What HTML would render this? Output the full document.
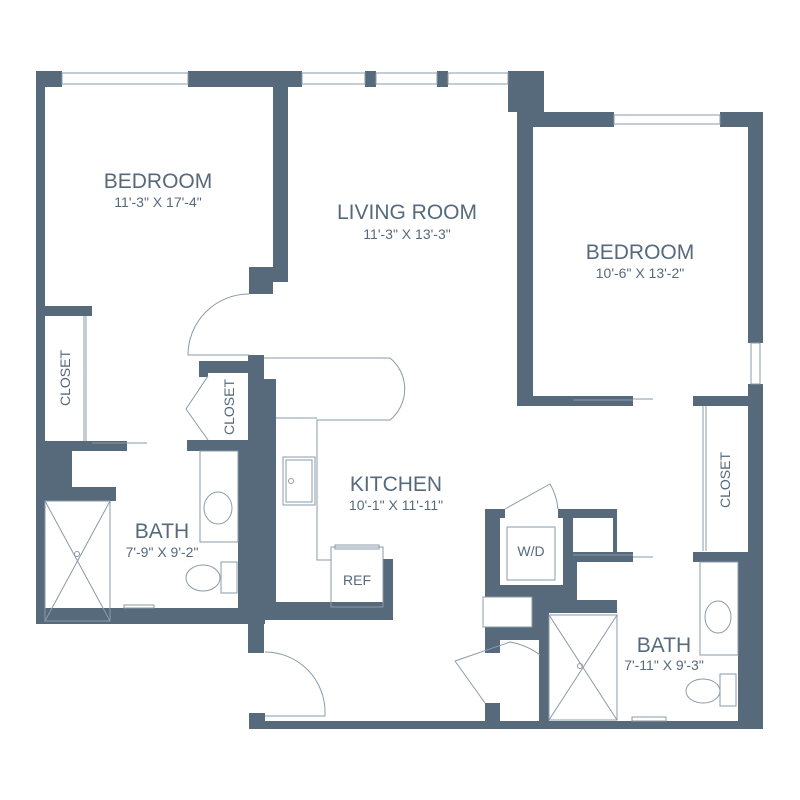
<!DOCTYPE html>
<html><head><meta charset="utf-8"><style>
html,body{margin:0;padding:0;background:#fff;width:800px;height:800px;overflow:hidden}
svg{display:block}
.t{font-family:"Liberation Sans",sans-serif;fill:#566a7c;text-anchor:middle}
</style></head><body>
<svg width="800" height="800" viewBox="0 0 800 800" xmlns="http://www.w3.org/2000/svg">
<g fill="#566a7c">
<rect x="36" y="71" width="26" height="16"/>
<rect x="188" y="71" width="114" height="16"/>
<rect x="365" y="71" width="11" height="16"/>
<rect x="437" y="71" width="11" height="16"/>
<rect x="508" y="71" width="36" height="41"/>
<rect x="517" y="71" width="16" height="335"/>
<rect x="533" y="112" width="81" height="15"/>
<rect x="720" y="112" width="43" height="15"/>
<rect x="748" y="112" width="15" height="231"/>
<rect x="748" y="384" width="15" height="344"/>
<rect x="738" y="562" width="25" height="166"/>
<rect x="36" y="71" width="9" height="553"/>
<rect x="36" y="608" width="229" height="16"/>
<rect x="273" y="87" width="15" height="195"/>
<rect x="249" y="267" width="24" height="27"/>
<rect x="273" y="267" width="15" height="15"/>
<rect x="45" y="306" width="47" height="10"/>
<rect x="36" y="441" width="91" height="10"/>
<rect x="36" y="441" width="36" height="60"/>
<rect x="72" y="487" width="44" height="14"/>
<rect x="187" y="440" width="62" height="11"/>
<rect x="199" y="361" width="50" height="12"/>
<rect x="199" y="361" width="9" height="16"/>
<rect x="248" y="355" width="16" height="298"/>
<rect x="248" y="379" width="28" height="241"/>
<rect x="238" y="450" width="20" height="170"/>
<rect x="276" y="602" width="117" height="18"/>
<rect x="383" y="559" width="10" height="61"/>
<rect x="249" y="713" width="16" height="16"/>
<rect x="249" y="721" width="514" height="8"/>
<rect x="517" y="396" width="116" height="10"/>
<rect x="693" y="396" width="55" height="10"/>
<rect x="693" y="552" width="55" height="10"/>
<rect x="485" y="509" width="132" height="104"/>
<rect x="485" y="509" width="64" height="131"/>
<rect x="485" y="627" width="15" height="26"/>
<rect x="485" y="703" width="15" height="18"/>
<rect x="539" y="600" width="10" height="121"/>
<rect x="573" y="552" width="60" height="10"/>
</g>
<g fill="#fff" stroke="#8a9aa8" stroke-width="1">
<rect x="505" y="505" width="53" height="14" stroke="none"/>
<rect x="500" y="518" width="63" height="67" stroke="none"/>
<rect x="507" y="527" width="48" height="53"/>
<rect x="573" y="518" width="40" height="34" stroke="none"/>
<rect x="577" y="562" width="40" height="38" stroke="none"/>
<rect x="483" y="597" width="49" height="30"/>
<rect x="500" y="640" width="39" height="81" stroke="none"/>
<rect x="62" y="73" width="126" height="11"/>
<rect x="302" y="73" width="63" height="11"/>
<rect x="376" y="73" width="61" height="11"/>
<rect x="448" y="73" width="60" height="11"/>
<rect x="614" y="115" width="106" height="9"/>
<rect x="751" y="343" width="9" height="41"/>
<rect x="72" y="451" width="43" height="36" stroke="none"/>
</g>
<g fill="none" stroke="#8a9aa8" stroke-width="1">
<rect x="45" y="501" width="65" height="120"/>
<path d="M45 501L110 621M110 501L45 621"/>
<circle cx="77" cy="554" r="2.5"/>
<rect x="549" y="615" width="68" height="105"/>
<path d="M549 615L617 720M617 615L549 720"/>
<circle cx="580" cy="666" r="2.5"/>
<rect x="200" y="451" width="38" height="91"/>
<ellipse cx="218" cy="508" rx="14" ry="16"/>
<rect x="221" y="562" width="16" height="31"/>
<ellipse cx="203" cy="578" rx="17" ry="13"/>
<rect x="124" y="605" width="30" height="3"/>
<rect x="700" y="562" width="38" height="93"/>
<ellipse cx="718" cy="617" rx="13" ry="16"/>
<rect x="720" y="674" width="16" height="32"/>
<ellipse cx="703" cy="691" rx="17" ry="12"/>
<rect x="632" y="717" width="34" height="4"/>
<path d="M84 316V441M86 316V441"/>
<path d="M92 443H147"/>
<path d="M264 358H390A40 40 0 0 1 390 420H317V560H331"/>
<path d="M276 418H317"/>
<rect x="283" y="457" width="32" height="48"/>
<rect x="286" y="460" width="26" height="42"/>
<circle cx="291" cy="481" r="2.5"/>
<rect x="331" y="547" width="52" height="60"/>
<rect x="335" y="545" width="44" height="4"/>
<path d="M249 294A61 61 0 0 0 188 355H249"/>
<path d="M265 652A60 60 0 0 1 325 713V716H265"/>
<path d="M208 376L186 409L208 440"/>
<path d="M455 661L510 642A70 70 0 0 1 540 655"/>
<path d="M455 661L485 703"/>
<path d="M505 509L550 484A60 60 0 0 1 558 509"/>
<path d="M633 399H653M633 557H653"/>
<path d="M573 400H633M573 555H633"/>
<path d="M703 406V551M706 406V551"/>
</g>
<text class="t" x="158" y="188" font-size="21">BEDROOM</text>
<text class="t" x="158" y="207" font-size="14">11'-3" X 17'-4"</text>
<text class="t" x="407" y="219" font-size="21">LIVING ROOM</text>
<text class="t" x="407" y="239" font-size="14">11'-3" X 13'-3"</text>
<text class="t" x="640" y="259" font-size="21">BEDROOM</text>
<text class="t" x="640" y="278" font-size="14">10'-6" X 13'-2"</text>
<text class="t" x="396" y="491" font-size="21">KITCHEN</text>
<text class="t" x="396" y="510" font-size="14">10'-1" X 11'-11"</text>
<text class="t" x="162" y="538" font-size="21">BATH</text>
<text class="t" x="162" y="557" font-size="14">7'-9" X 9'-2"</text>
<text class="t" x="664" y="652" font-size="21">BATH</text>
<text class="t" x="664" y="670" font-size="14">7'-11" X 9'-3"</text>
<text class="t" x="357" y="585" font-size="14">REF</text>
<text class="t" x="531" y="556" font-size="14">W/D</text>
<text class="t" font-size="14" transform="translate(70,378) rotate(-90)">CLOSET</text>
<text class="t" font-size="14" transform="translate(234,407) rotate(-90)">CLOSET</text>
<text class="t" font-size="14" transform="translate(730,480) rotate(-90)">CLOSET</text>
</svg>
</body></html>
